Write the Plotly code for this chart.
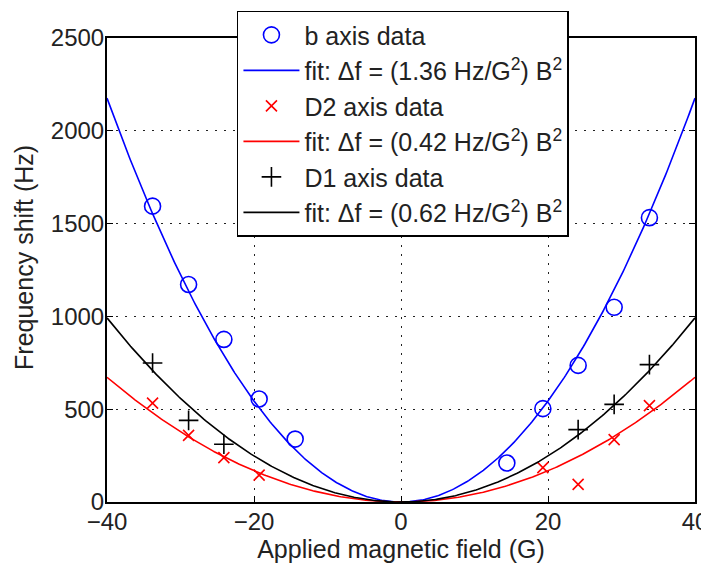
import numpy as np
import plotly.graph_objects as go

# Data
field_b = [-33.8, -28.9, -24.1, -19.3, -14.4, 14.4, 19.3, 24.1, 29.0, 33.8]
shift_b = [1594, 1172, 876, 555, 339, 210, 503, 736, 1049, 1532]

field_d2 = [-33.8, -28.9, -24.1, -19.3, 19.3, 24.1, 29.0, 33.8]
shift_d2 = [533, 359, 239, 145, 185, 95, 336, 519]

field_d1 = [-33.8, -28.9, -24.1, 24.1, 29.0, 33.8]
shift_d1 = [749, 440, 311, 390, 526, 740]

coef_b, coef_d2, coef_d1 = 1.36, 0.42, 0.62

xticks = [-40, -20, 0, 20, 40]
yticks = [0, 500, 1000, 1500, 2000, 2500]

B = np.linspace(-40, 40, 401)
FONT = "Liberation Sans"
TXT = "#222222"

fig = go.Figure()
fig.add_trace(go.Scatter(x=field_b, y=shift_b, mode="markers", name="b axis data",
                         legendgroup="g1",
                         marker=dict(symbol="circle-open", size=16, color="#0000ff",
                                     line=dict(width=1.6, color="#0000ff"))))
fig.add_trace(go.Scatter(x=B, y=coef_b * B**2, mode="lines", legendgroup="g2",
                         name="fit: Δf = (1.36 Hz/G<sup>2</sup>) B<sup>2</sup>",
                         line=dict(color="#0000ff", width=1.6)))
fig.add_trace(go.Scatter(x=field_d2, y=shift_d2, mode="markers", name="D2 axis data",
                         legendgroup="g3",
                         marker=dict(symbol="x-thin", size=11, color="#ff0000",
                                     line=dict(width=1.6, color="#ff0000"))))
fig.add_trace(go.Scatter(x=B, y=coef_d2 * B**2, mode="lines", legendgroup="g4",
                         name="fit: Δf = (0.42 Hz/G<sup>2</sup>) B<sup>2</sup>",
                         line=dict(color="#ff0000", width=1.6)))
fig.add_trace(go.Scatter(x=field_d1, y=shift_d1, mode="markers", name="D1 axis data",
                         legendgroup="g5",
                         marker=dict(symbol="cross-thin", size=14, color="#000000",
                                     line=dict(width=1.6, color="#000000"))))
fig.add_trace(go.Scatter(x=B, y=coef_d1 * B**2, mode="lines", legendgroup="g6",
                         name="fit: Δf = (0.62 Hz/G<sup>2</sup>) B<sup>2</sup>",
                         line=dict(color="#000000", width=1.6)))

axis_common = dict(showline=True, linecolor="black", linewidth=2, mirror="allticks",
                   ticks="inside", ticklen=6, tickwidth=1, tickcolor="black",
                   showgrid=True, gridcolor="#222222", gridwidth=1, griddash="1.5px,7.5px",
                   zeroline=False, automargin=False,
                   tickfont=dict(family=FONT, size=24, color=TXT))

fig.update_xaxes(range=[-40, 40], tickvals=xticks, ticklabelstandoff=-3,
                 title=dict(text="Applied magnetic field (G)", standoff=2,
                            font=dict(family=FONT, size=25, color=TXT)),
                 **axis_common)
fig.update_yaxes(range=[0, 2500], tickvals=yticks, ticklabelstandoff=-4,
                 **axis_common)

# y-axis title, placed where the reference draws it
fig.add_annotation(text="Frequency shift (Hz)", textangle=-90,
                   xref="paper", yref="paper", x=0, y=0.526,
                   xanchor="center", yanchor="middle", xshift=-83, showarrow=False,
                   font=dict(family=FONT, size=25, color=TXT))

# the page body adds an 8px offset; size and margins compensate for it
fig.update_layout(
    width=701, height=557,
    margin=dict(l=99, r=13.5, t=29.5, b=63.3, autoexpand=False),
    paper_bgcolor="white", plot_bgcolor="white",
    font=dict(family=FONT, size=24, color=TXT),
    showlegend=True,
    legend=dict(x=0.221, y=1.059, xanchor="left", yanchor="top",
                bgcolor="white", bordercolor="black", borderwidth=1.5,
                font=dict(family=FONT, size=25, color=TXT),
                traceorder="grouped", tracegroupgap=0, itemwidth=56),
)

fig.write_html("out.html")
